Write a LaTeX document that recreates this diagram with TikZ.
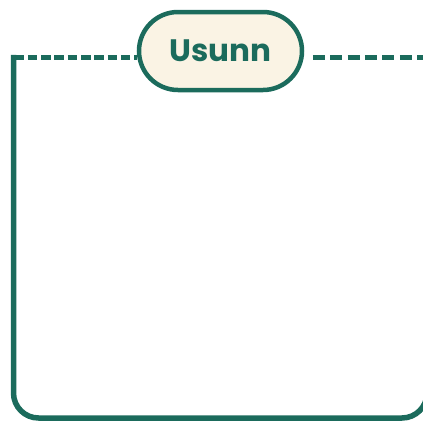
\documentclass[tikz,border=0pt]{standalone}
\usepackage{fontspec}
\usepackage{tikz}
\usepackage{xcolor}
\usetikzlibrary{positioning, shapes.misc}

\newfontfamily\pillfont{Poppins}
\definecolor{frameteal}{HTML}{1B6B5C}
\definecolor{pillcream}{HTML}{FAF3E4}

\begin{document}
\begin{tikzpicture}[x=1pt, y=-1pt]
            \useasboundingbox (0, 0) rectangle (423, 421);

            \node[rounded rectangle, draw=frameteal, line width=4.5pt, fill=pillcream, minimum width=163pt, minimum height=78pt, inner sep=0pt, text=frameteal, font=\pillfont\bfseries\fontsize{31}{36}\selectfont] (usunn) at (220.5, 51) {Usunn};

            \coordinate (topleft) at (14.5, 57.5);
            \coordinate (topright) at (435, 57.5);

            \draw[frameteal, line width=5.5pt, rounded corners=25pt] (13.5, 54.75) -- (13.5, 418) -- (427, 418) -- (427, 57.5);
            \draw[frameteal, line width=5.5pt, dash pattern=on 9.5pt off 3.8pt] (topleft) -- (topleft -| usunn.west);
            \draw[frameteal, line width=5.5pt, dash pattern=on 12pt off 5.4pt, shorten <=8.5pt] (topright -| usunn.east) -- (topright);
        \end{tikzpicture}
\end{document}
